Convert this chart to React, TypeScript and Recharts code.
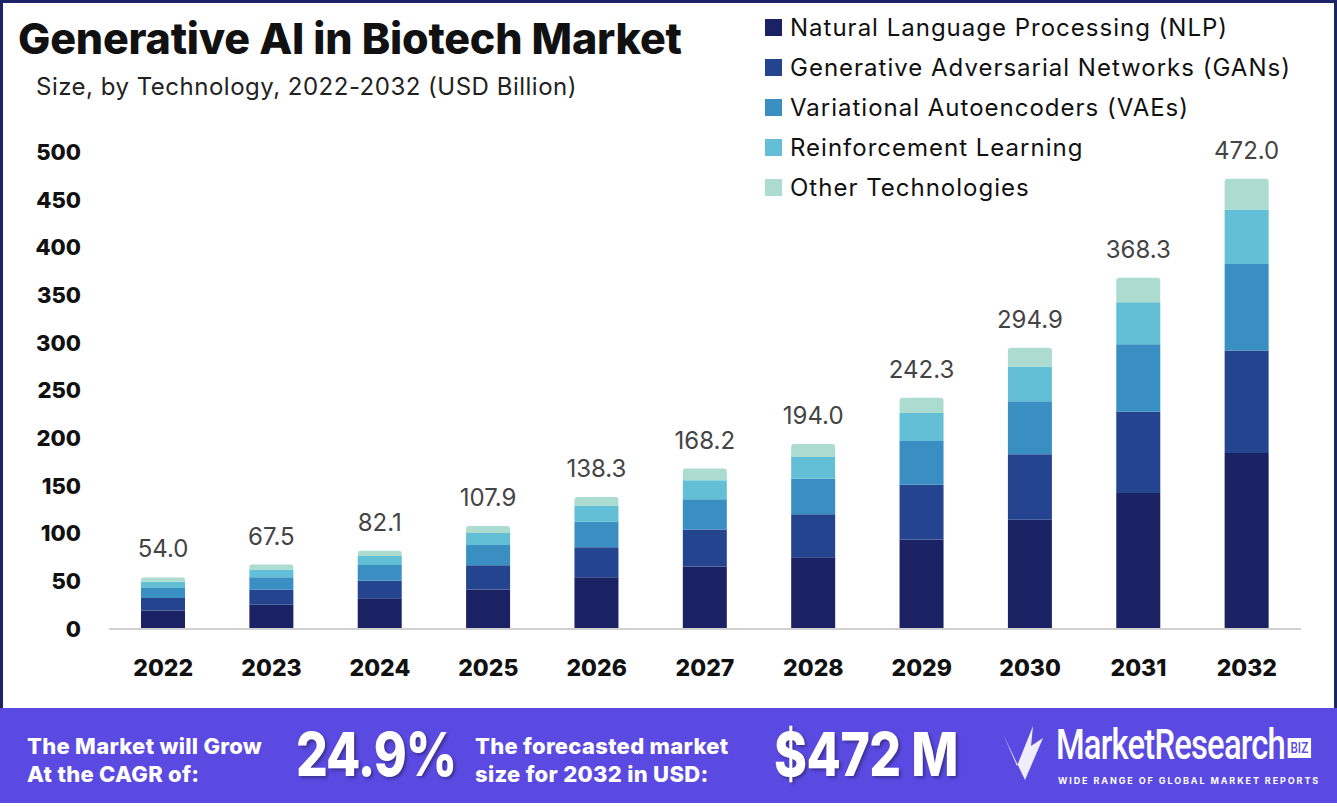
import { Bar, BarChart, LabelList, XAxis, YAxis } from "recharts";

const years = ["2022", "2023", "2024", "2025", "2026", "2027", "2028", "2029", "2030", "2031", "2032"];
const nlp = [19.5, 25.3, 32.2, 41.5, 54.3, 65.6, 75.3, 93.9, 114.5, 142.5, 184.5];
const gans = [13.1, 15.8, 18.5, 25.3, 31.4, 38.7, 45.1, 57.3, 68.6, 85.3, 107.5];
const vaes = [10.5, 13.2, 16.3, 21.2, 26.8, 31.6, 37.0, 45.9, 55.6, 70.6, 90.7];
const rl = [6.4, 8.0, 9.4, 12.7, 16.9, 20.0, 22.9, 29.3, 36.5, 44.2, 56.9];
const other = [4.5, 5.2, 5.7, 7.2, 8.9, 12.3, 13.7, 15.9, 19.7, 25.7, 32.4];
const totals = [54.0, 67.5, 82.1, 107.9, 138.3, 168.2, 194.0, 242.3, 294.9, 368.3, 472.0];
const yTicks = [0, 50, 100, 150, 200, 250, 300, 350, 400, 450, 500];

const series = [
  { key: "nlp", name: "Natural Language Processing (NLP)", color: "#1a2264" },
  { key: "gans", name: "Generative Adversarial Networks (GANs)", color: "#24448f" },
  { key: "vaes", name: "Variational Autoencoders (VAEs)", color: "#3a8fc2" },
  { key: "rl", name: "Reinforcement Learning", color: "#63bfd6" },
  { key: "other", name: "Other Technologies", color: "#acdccf" },
];

const data = years.map((year, i) => ({
  year,
  nlp: nlp[i],
  gans: gans[i],
  vaes: vaes[i],
  rl: rl[i],
  other: other[i],
  total: totals[i],
}));

const font = "Inter, 'Open Sans', sans-serif";

const TotalLabel = (props: any) => {
  const { x, y, width, index } = props;
  return (
    <text x={x + width / 2} y={y - 20} textAnchor="middle" fill="#444" fontSize={24} fontFamily={font}>
      {totals[index].toFixed(1)}
    </text>
  );
};

const bigText = {
  position: "absolute" as const,
  fontSize: 50,
  fontWeight: 800,
  letterSpacing: -1,
  transform: "scale(1, 1.2)",
  transformOrigin: "left center",
  textShadow: "2px 2px 3px rgba(0,0,0,0.35)",
};

const smallText = {
  position: "absolute" as const,
  fontSize: 22,
  fontWeight: 800,
  lineHeight: "28px",
  letterSpacing: 0.3,
};

export default function App() {
  return (
    <div style={{ position: "relative", width: 1337, height: 807, background: "#fff", fontFamily: font, overflow: "hidden" }}>
      <style>{"body{margin:0}"}</style>
      <div style={{ position: "absolute", left: 0, top: 0, width: 1337, height: 708, boxSizing: "border-box", border: "3px solid #1c2366", borderBottom: "none" }} />
      <div style={{ position: "absolute", left: 18, top: 12, fontSize: 43, fontWeight: 800, color: "#111", letterSpacing: -0.2 }}>
        Generative AI in Biotech Market
      </div>
      <div style={{ position: "absolute", left: 36, top: 72, fontSize: 24, color: "#222", letterSpacing: 0.5 }}>
        Size, by Technology, 2022-2032 (USD Billion)
      </div>

      <div style={{ position: "absolute", left: 765, top: 7 }}>
        {series.map((s) => (
          <div key={s.key} style={{ display: "flex", alignItems: "center", height: 40 }}>
            <span style={{ width: 17, height: 17, background: s.color, marginRight: 8, display: "inline-block" }} />
            <span style={{ fontSize: 24, color: "#111", letterSpacing: 1 }}>{s.name}</span>
          </div>
        ))}
      </div>

      <div style={{ position: "absolute", left: 0, top: 0 }}>
        <BarChart width={1337} height={708} data={data} margin={{ top: 152, right: 36, bottom: 30, left: 9 }} barSize={44}>
          <XAxis
            dataKey="year"
            axisLine={{ stroke: "#d0d0d0", strokeWidth: 2 }}
            tickLine={false}
            tickSize={0}
            tickMargin={31}
            height={49}
            tick={{ fill: "#111", fontSize: 23, fontWeight: 800, fontFamily: font }}
          />
          <YAxis
            domain={[0, 500]}
            ticks={yTicks}
            axisLine={false}
            tickLine={false}
            tickSize={0}
            tickMargin={28}
            width={100}
            tick={{ fill: "#111", fontSize: 22, fontWeight: 800, fontFamily: font }}
          />
          {series.map((s) => (
            <Bar
              key={s.key}
              dataKey={s.key}
              name={s.name}
              stackId="a"
              fill={s.color}
              isAnimationActive={false}
              radius={s.key === "other" ? [3, 3, 0, 0] : 0}
            >
              {s.key === "other" && <LabelList dataKey="total" content={TotalLabel} />}
            </Bar>
          ))}
        </BarChart>
      </div>

      <div style={{ position: "absolute", left: 0, top: 708, width: 1337, height: 95, background: "#5b4ae2", color: "#fff" }}>
        <div style={{ ...smallText, left: 27, top: 24 }}>
          The Market will Grow<br />At the CAGR of:
        </div>
        <div style={{ ...bigText, left: 296, top: 16 }}>24.9%</div>
        <div style={{ ...smallText, left: 475, top: 24 }}>
          The forecasted market<br />size for 2032 in USD:
        </div>
        <div style={{ ...bigText, left: 774, top: 16, letterSpacing: -0.5 }}>$472 M</div>
        <svg style={{ position: "absolute", left: 1003, top: 12 }} width={44} height={64} viewBox="0 0 44 64">
          <path d="M0 14 L14 46 L30 6 L28 26 L40 18 L22 60 Z" fill="#fff" opacity={0.9} />
        </svg>
        <div
          style={{
            position: "absolute",
            left: 1056,
            top: 12,
            fontSize: 42,
            fontWeight: 500,
            letterSpacing: -1,
            fontFamily: "Roboto, sans-serif",
            whiteSpace: "nowrap",
            transform: "scale(0.78, 1)",
            transformOrigin: "left top",
          }}
        >
          MarketResearch
          <span style={{ fontSize: 15, background: "#fff", color: "#5b4ae2", padding: "1px 4px", marginLeft: 3, verticalAlign: "middle", letterSpacing: 0 }}>BIZ</span>
        </div>
        <div style={{ position: "absolute", left: 1058, top: 67, fontSize: 9, fontWeight: 700, letterSpacing: 1.9, whiteSpace: "nowrap" }}>
          WIDE RANGE OF GLOBAL MARKET REPORTS
        </div>
      </div>
    </div>
  );
}
